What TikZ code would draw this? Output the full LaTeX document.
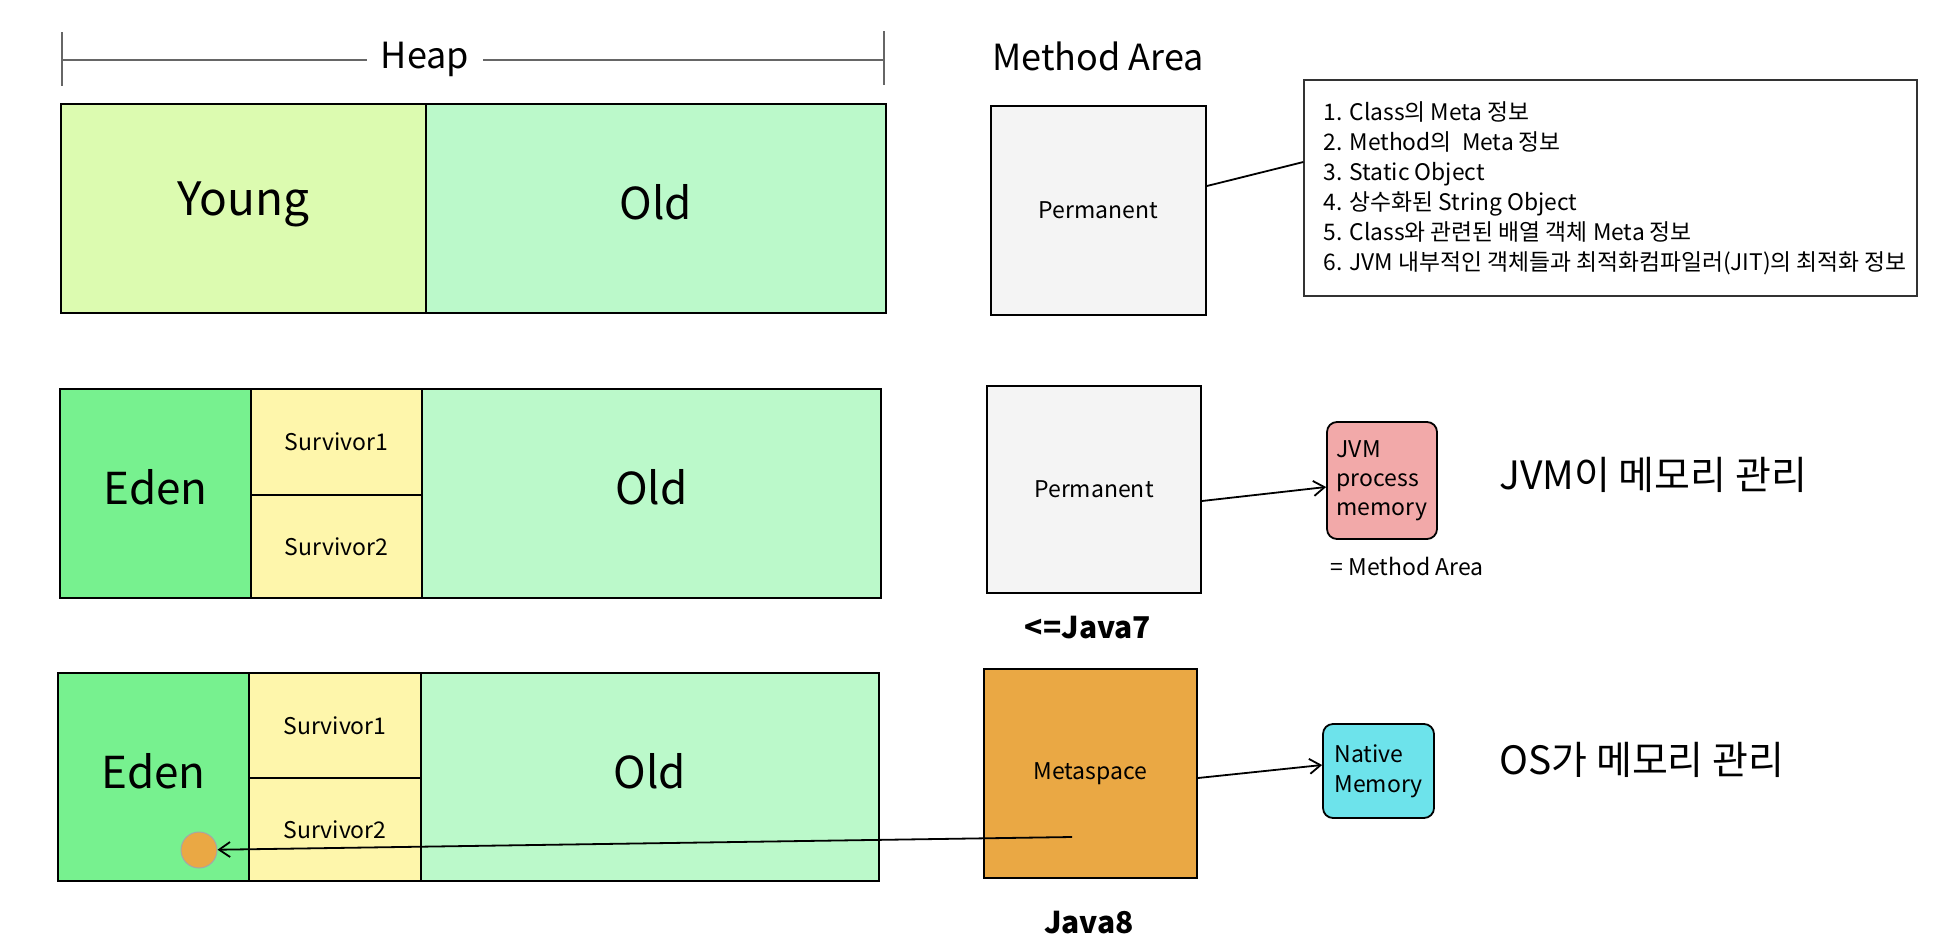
\documentclass[tikz,border=0pt]{standalone}
\usepackage{fontspec}
\setmainfont{Noto Sans CJK KR}
\usetikzlibrary{arrows.meta}
\definecolor{youngc}{HTML}{DCFBB0}
\definecolor{oldc}{HTML}{BBF9CA}
\definecolor{edenc}{HTML}{77F18F}
\definecolor{survc}{HTML}{FEF6AB}
\definecolor{permc}{HTML}{F4F4F4}
\definecolor{metac}{HTML}{EAA844}
\definecolor{jvmc}{HTML}{F2A9A9}
\definecolor{nativec}{HTML}{6DE3EB}
\definecolor{heapgray}{HTML}{666666}
\newcommand{\upby}[2]{\raisebox{#1}[\height][\depth]{#2}}
\begin{document}
\begin{tikzpicture}[x=0.5pt,y=-0.5pt,
  area/.style={draw=black, line width=0.9pt, inner sep=0pt, rectangle},
  bigtxt/.style={font=\fontsize{22}{26}\selectfont},
  smalltxt/.style={font=\fontsize{11.5}{14}\selectfont},
  rbox/.style={draw=black, line width=0.9pt, rounded corners=5pt, inner sep=0pt, align=left},
  arr/.style={line width=0.9pt, -{Straight Barb[length=5.5pt,width=7.5pt]}},
  title/.style={font=\fontsize{18}{22}\selectfont},
  javalbl/.style={font=\fontsize{15}{18}\selectfont\bfseries},
  kor/.style={font=\fontsize{19.5}{23}\selectfont, anchor=west, inner sep=0pt}]
\useasboundingbox[fill=white] (0,0) rectangle (1958,942);

% Heap bracket
\coordinate (hlt) at (62,32);
\coordinate (hlb) at (62,86);
\coordinate (hl) at (62,60);
\coordinate (hrt) at (884,31);
\coordinate (hrb) at (884,85);
\coordinate (hr) at (884,60);
\node[title, inner xsep=7pt] (heap) at (425,59) {Heap};
\draw[heapgray, line width=0.8pt] (hlt) -- (hlb);
\draw[heapgray, line width=0.8pt] (hrt) -- (hrb);
\draw[heapgray, line width=0.8pt] (hl) -- (heap.west |- hl);
\draw[heapgray, line width=0.8pt] (heap.east |- hr) -- (hr);
\node[title] (matitle) at (1098,56) {Method Area};

% Row 1
\node[area, fill=youngc, minimum width=182.5pt, minimum height=104.5pt, font=\fontsize{23}{27}\selectfont] (young) at (243.5,208.5) {\upby{2pt}{Young}};
\node[area, fill=oldc, minimum width=230pt, minimum height=104.5pt, bigtxt] (old1) at (656,208.5) {\upby{3pt}{Old}};
\node[area, fill=permc, minimum width=107.5pt, minimum height=104.5pt, smalltxt] (perm1) at (1098.5,210.5) {Permanent};
\node[draw=black!80, line width=0.6pt, minimum width=306.5pt, minimum height=108pt, inner sep=0pt] (info) at (1610.5,188) {};
\node[anchor=west, align=left, inner sep=0pt, font=\fontsize{11.4}{15}\selectfont] (infotext) at ([xshift=10pt]info.west) {1. Class의 Meta 정보\\2. Method의\ \ Meta 정보\\3. Static Object\\4. 상수화된 String Object\\5. Class와 관련된 배열 객체 Meta 정보\\6. JVM 내부적인 객체들과 최적화컴파일러(JIT)의 최적화 정보};
\draw[line width=0.9pt] ([yshift=12.25pt]perm1.east) -- ([yshift=13pt]info.west);

% Row 2
\node[area, fill=edenc, minimum width=95.5pt, minimum height=104.5pt, bigtxt] (eden2) at (155.5,493.5) {\upby{3pt}{Eden}};
\node[area, fill=survc, minimum width=85.5pt, minimum height=53pt, smalltxt] (s12) at (336.5,442) {Survivor1};
\node[area, fill=survc, minimum width=85.5pt, minimum height=51.5pt, smalltxt] (s22) at (336.5,546.5) {Survivor2};
\node[area, fill=oldc, minimum width=229.5pt, minimum height=104.5pt, bigtxt] (old2) at (651.5,493.5) {\upby{3pt}{Old}};
\node[area, fill=permc, minimum width=107pt, minimum height=103.5pt, smalltxt] (perm2) at (1094,489.5) {Permanent};
\node[rbox, fill=jvmc, minimum width=55pt, minimum height=58.5pt, font=\fontsize{11.5}{14.5}\selectfont] (jvm) at (1382,480.5) {JVM\\process\\memory};
\node[font=\fontsize{11.5}{14}\selectfont, anchor=west, inner sep=0pt] (maeq) at (1330,566) {= Method Area};
\node[kor] (jvmkor) at (1499,475) {JVM이 메모리 관리};
\node[javalbl] (java7) at (1088,628) {<=Java7};
\draw[arr] ([yshift=-5.75pt]perm2.east) -- ([yshift=-3.25pt]jvm.west);

% Row 3
\node[area, fill=edenc, minimum width=95.5pt, minimum height=104pt, bigtxt] (eden3) at (153.5,777) {\upby{3pt}{Eden}};
\node[area, fill=survc, minimum width=86pt, minimum height=52.5pt, smalltxt] (s13) at (335,725.5) {Survivor1};
\node[area, fill=survc, minimum width=86pt, minimum height=51.5pt, smalltxt] (s23) at (335,829.5) {Survivor2};
\node[area, fill=oldc, minimum width=229pt, minimum height=104pt, bigtxt] (old3) at (650,777) {\upby{3pt}{Old}};
\node[area, fill=metac, minimum width=106.5pt, minimum height=104.5pt, smalltxt] (meta) at (1090.5,773.5) {Metaspace};
\node[rbox, fill=nativec, minimum width=55.5pt, minimum height=47pt, font=\fontsize{11.5}{15}\selectfont] (native) at (1378.5,771) {Native\\Memory};
\node[kor] (oskor) at (1499,760) {OS가 메모리 관리};
\node[javalbl] (java8) at (1089,923) {Java8};
\draw[arr] ([yshift=-2.25pt]meta.east) -- ([yshift=3pt]native.west);
\node[circle, fill=metac, draw=black!35, line width=0.5pt, minimum size=18pt, inner sep=0pt] (obj) at (199,850) {};
\coordinate (mstart) at (1072,837);
\draw[arr] (mstart) -- (obj);
\end{tikzpicture}
\end{document}
